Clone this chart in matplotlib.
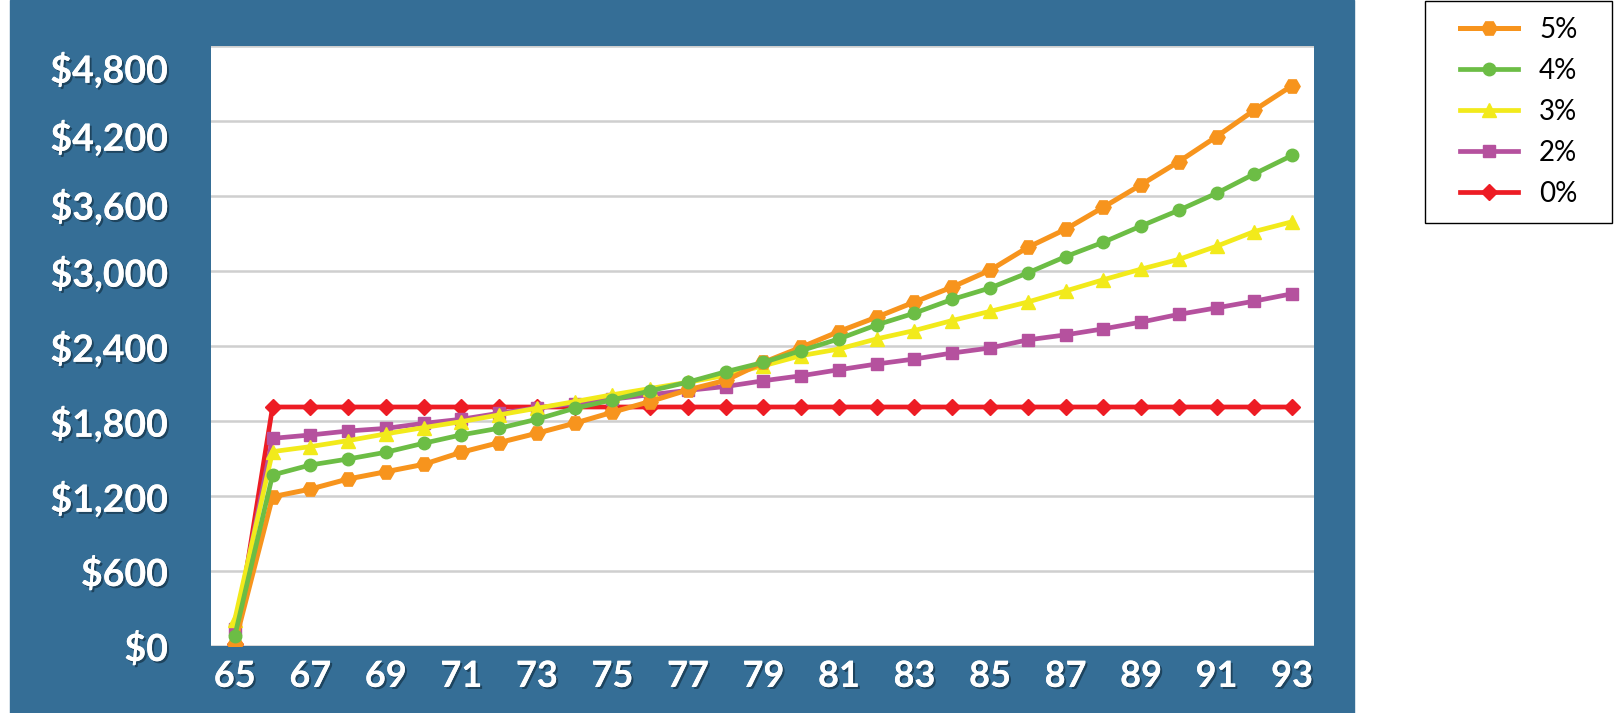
import matplotlib
matplotlib.use("Agg")
import matplotlib.pyplot as plt
import matplotlib.patheffects as pe
from matplotlib.transforms import ScaledTranslation

plt.rcParams["font.family"] = ["Lato", "DejaVu Sans"]

ages = list(range(65, 94))

# monthly benefit by age
pct5 = [20, 1194, 1255, 1336, 1394, 1453, 1550, 1627, 1702, 1782, 1870, 1956, 2049, 2125, 2269,
        2390, 2516, 2631, 2752, 2872, 3006, 3189, 3334, 3510, 3690, 3875, 4075, 4287, 4483]
pct4 = [80, 1368, 1448, 1496, 1550, 1622, 1689, 1742, 1814, 1902, 1969, 2041, 2111, 2194, 2269,
        2363, 2457, 2569, 2663, 2773, 2864, 2985, 3115, 3230, 3360, 3486, 3622, 3777, 3925]
pct3 = [210, 1555, 1595, 1643, 1697, 1747, 1795, 1849, 1902, 1955, 2010, 2060, 2110, 2165, 2242,
        2323, 2376, 2457, 2524, 2604, 2677, 2752, 2840, 2930, 3015, 3093, 3198, 3316, 3394]
pct2 = [140, 1661, 1688, 1720, 1741, 1781, 1814, 1862, 1905, 1940, 1975, 2010, 2045, 2076, 2122,
        2162, 2210, 2256, 2296, 2344, 2384, 2449, 2489, 2537, 2591, 2653, 2705, 2759, 2818]
pct0 = [20] + [1912] * 28

labels = ["5%", "4%", "3%", "2%", "0%"]
yticks = list(range(0, 4801, 600))

W, H = 1614, 713
fig = plt.figure(figsize=(W / 100, H / 100), dpi=100)
fig.patches.append(plt.Rectangle((10 / W, 0), 1344 / W, 1, transform=fig.transFigure,
                                 color="#356E96", zorder=-2))
# legend box
fig.patches.append(plt.Rectangle((1425 / W, 1 - 223 / H), 187 / W, 222 / H, transform=fig.transFigure,
                                 facecolor="white", edgecolor="black", lw=1.0, zorder=-2))

ax = fig.add_axes([211 / W, 67 / H, 1103 / W, 600 / H])
ax.set_facecolor("white")

l0, = ax.plot(ages, pct0, color="#ED1C24", lw=3.4, marker="D", ms=8, zorder=3)
l2, = ax.plot(ages, pct2, color="#B5519E", lw=3.4, marker="s", ms=8, zorder=4)
l3, = ax.plot(ages, pct3, color="#F2EA1B", lw=3.4, marker="^", ms=10, zorder=5)
l5, = ax.plot(ages, pct5, color="#F7941D", lw=3.6, marker="H", ms=11, zorder=6)
l4, = ax.plot(ages, pct4, color="#6CBD45", lw=3.4, marker="o", ms=9, zorder=7)

ax.set_xlim(64.37, 93.58)
ax.set_ylim(0, 4800)
ax.set_yticks(yticks)
ax.set_yticklabels([f"${v:,}" for v in yticks])
ax.set_xticks(ages[::2])
ax.yaxis.grid(True, color="#CFCFCF", lw=1.8)
ax.set_axisbelow(True)
for s in ax.spines.values():
    s.set_visible(False)

ax.tick_params(axis="both", length=0, labelcolor="white")
ax.tick_params(axis="y", pad=31, labelsize=27)
ax.tick_params(axis="x", pad=10, labelsize=26)

shadow = [pe.withSimplePatchShadow(offset=(1.5, -1.5), shadow_rgbFace="#10283a", alpha=0.6), pe.Normal()]
for t in ax.get_xticklabels() + ax.get_yticklabels():
    t.set_fontweight("bold")
    t.set_path_effects(shadow)

# top y labels sit a bit lower than their gridlines in the original
ylabs = ax.get_yticklabels()
for lab, dy in zip(ylabs[-3:], [8, 14, 21]):
    lab.set_transform(lab.get_transform() + ScaledTranslation(0, -dy / 100, fig.dpi_scale_trans))

fig.legend([l5, l4, l3, l2, l0], labels, loc="upper left",
           bbox_to_anchor=(1460 / W, 1 - 17 / H), frameon=False, fontsize=20,
           handlelength=2.1, handletextpad=0.75, labelspacing=0.54,
           borderpad=0, borderaxespad=0)

fig.savefig("out.png", dpi=100)
